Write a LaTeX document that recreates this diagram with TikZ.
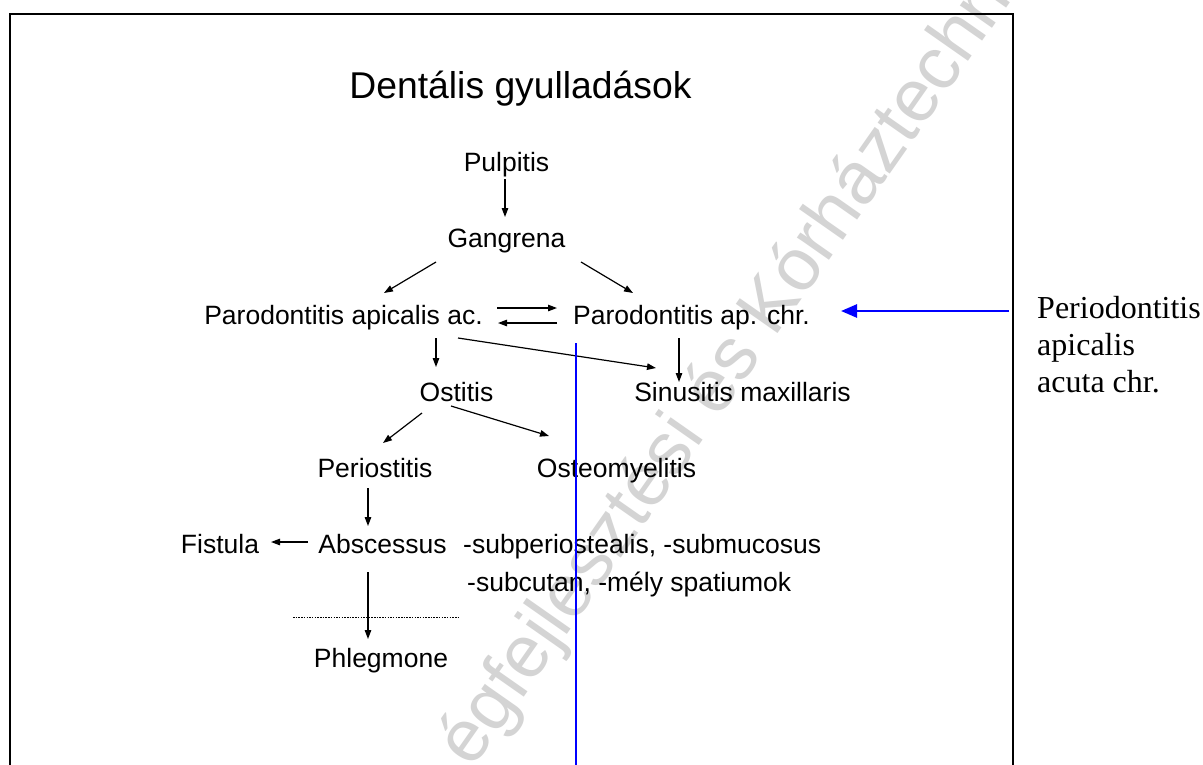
\documentclass[tikz,border=0pt]{standalone}
\usepackage{fontspec}
\setmainfont{Liberation Sans}
\newfontfamily\timesfam{Liberation Serif}
\usetikzlibrary{arrows.meta,calc}
\begin{document}
\begin{tikzpicture}[x=1pt,y=-1pt,
  lbl/.style={inner sep=0pt,anchor=base,font=\fontsize{26.5}{30}\selectfont},
  lblw/.style={lbl,anchor=base west},
  rtxt/.style={inner sep=0pt,anchor=base west,font=\timesfam\fontsize{32}{37}\selectfont},
  arr/.style={line width=1.2pt,-{Triangle[length=9pt,width=6.5pt]}},
  bluearr/.style={line width=2.6pt,draw={rgb,255:red,0;green,0;blue,255},-{Triangle[length=16pt,width=13pt]}},
  blueline/.style={line width=2.7pt,draw={rgb,255:red,0;green,0;blue,255}},
  frameline/.style={line width=2pt,draw=black},
  wmark/.style={inner sep=0pt,anchor=base,rotate=55,text=black!17,font=\fontsize{74}{84}\selectfont}
]
\useasboundingbox (0,0) rectangle (1203,764);
\clip (0,0) rectangle (1203,764);
\fill[white] (0,0) rectangle (1203,764);

% watermark
\node[wmark] (wm) at (743,384) {égfejlesztési és Kórháztechn};

% frame
\draw[frameline] (10,790) -- (10,14) -- (1013,14) -- (1013,790);

% title
\node[inner sep=0pt,anchor=base,font=\fontsize{37.3}{42}\selectfont] (title) at (520.5,98) {Dentális gyulladások};

% nodes
\node[lbl] (pulp) at (506.5,171) {Pulpitis};
\node[lbl] (gang) at (506.5,247) {Gangrena};
\node[lbl] (paac) at (343.5,324) {Parodontitis apicalis ac.};
\node[lbl] (pach) at (691.5,324) {Parodontitis ap. chr.};
\node[lbl] (ost) at (456.5,401) {Ostitis};
\node[lbl] (sin) at (742.5,401) {Sinusitis maxillaris};
\node[lbl] (peri) at (375,477) {Periostitis};
\node[lbl] (osteo) at (616.5,477) {Osteomyelitis};
\node[lbl] (absc) at (382.5,553) {Abscessus};
\node[lbl] (fist) at (220,553) {Fistula};
\node[lbl] (phleg) at (381,667) {Phlegmone};
\node[lblw] (sub1) at (463,553) {-subperiostealis, -submucosus};
\node[lblw] (sub2) at (467,591) {-subcutan, -mély spatiumok};

% right text
\node[rtxt] (r1) at (1037,318) {Periodontitis};
\node[rtxt] (r2) at (1037,355) {apicalis};
\node[rtxt] (r3) at (1037,392) {acuta chr.};

% arrows
\draw[arr] ($(pulp.base)+(-1.5,8)$) -- ($(gang.base)+(-1.5,-30)$);
\draw[arr] ($(gang.base)+(-70.5,15)$) -- ($(paac.base)+(40.5,-31)$);
\draw[arr] ($(gang.base)+(74.5,15)$) -- ($(pach.base)+(-58.5,-31)$);
\draw[arr] ($(paac.base)+(153.5,-16)$) -- ($(pach.base)+(-134.5,-16)$);
\draw[arr] ($(pach.base)+(-134.5,-1)$) -- ($(paac.base)+(154.5,-1)$);
\draw[arr] ($(paac.base)+(92.5,14)$) -- ($(ost.base)+(-20.5,-34)$);
\draw[arr] ($(paac.base)+(114.5,14)$) -- ($(sin.base)+(-86.5,-33)$);
\draw[arr] ($(pach.base)+(-12.5,14)$) -- ($(sin.base)+(-63.5,-19)$);
\draw[arr] ($(ost.base)+(-34.5,12)$) -- ($(peri.base)+(8,-34)$);
\draw[arr] ($(ost.base)+(-5.5,5)$) -- ($(osteo.base)+(-67.5,-41)$);
\draw[arr] ($(peri.base)+(-7,11)$) -- ($(absc.base)+(-14.5,-27)$);
\draw[arr] ($(absc.base)+(-74.5,-11)$) -- ($(fist.base)+(51,-11)$);
\draw[arr] ($(absc.base)+(-14.5,19)$) -- ($(phleg.base)+(-13,-28)$);

% dotted line
\coordinate (dl1) at (293,617);
\coordinate (dl2) at (460,617);
\draw[line width=0.8pt,dash pattern=on 1.5pt off 1.2pt] (dl1) -- (dl2);

% blue marks
\coordinate (bstart) at (1009,311);
\draw[bluearr] (bstart) -- ($(pach.base)+(149.5,-13)$);
\coordinate (bv1) at (576,343);
\coordinate (bv2) at (576,770);
\draw[blueline] (bv1) -- (bv2);
\end{tikzpicture}
\end{document}
